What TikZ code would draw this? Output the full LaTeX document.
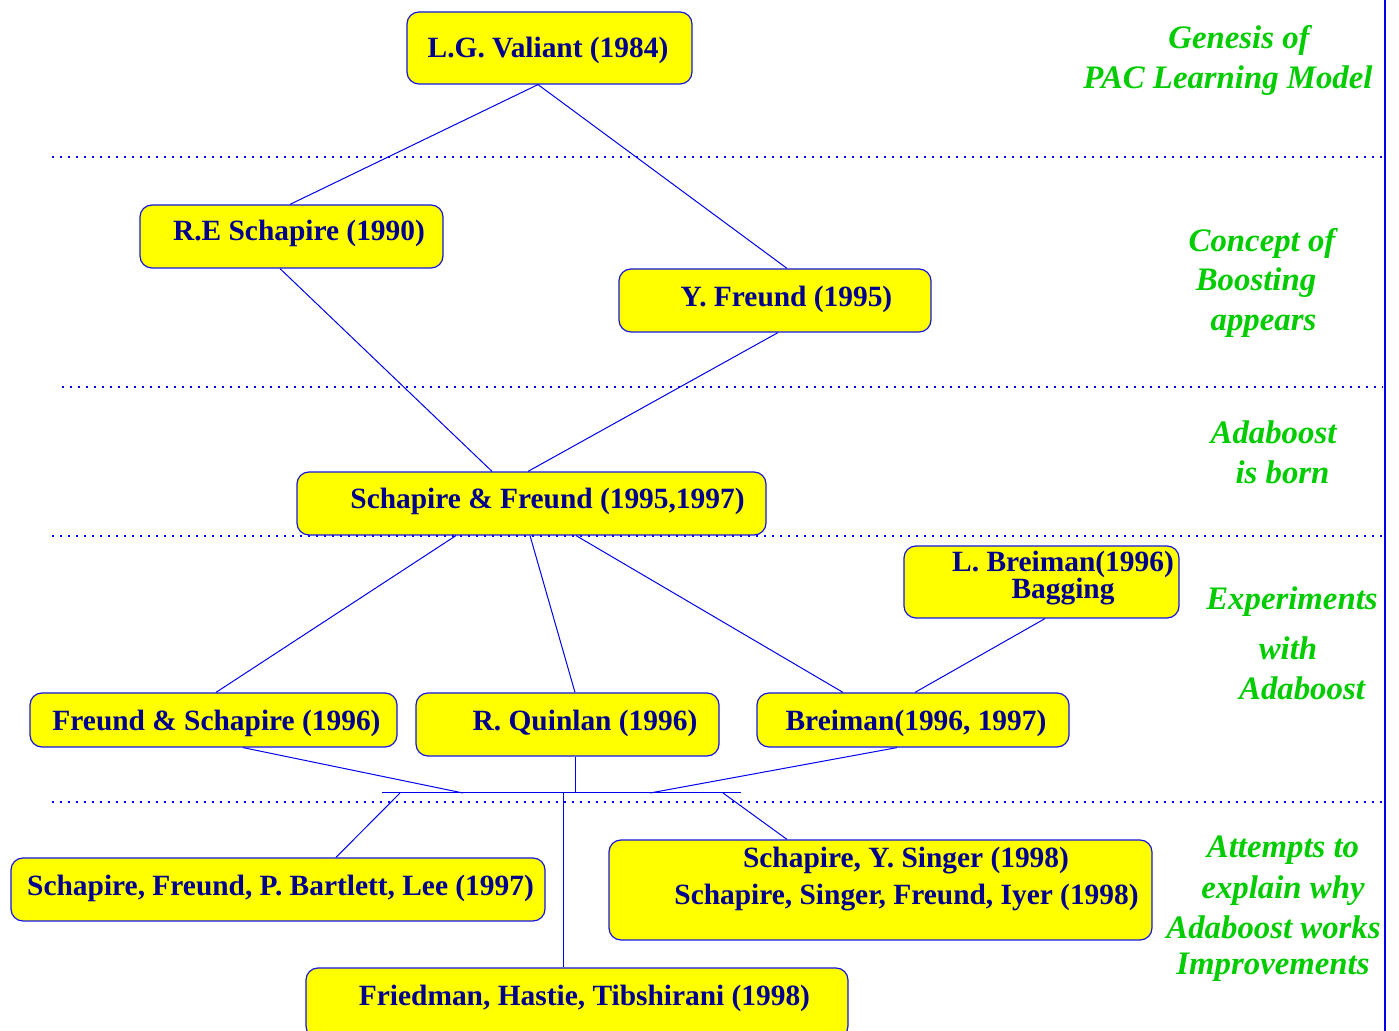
\documentclass[tikz,border=0pt]{standalone}
\usepackage{fontspec}
\setmainfont{Liberation Serif}
\usetikzlibrary{calc,fit}
\definecolor{boxblue}{RGB}{20,20,230}
\definecolor{linkblue}{RGB}{0,0,240}
\definecolor{navytext}{RGB}{0,0,140}
\definecolor{epochgreen}{RGB}{0,204,0}
\definecolor{boxyellow}{RGB}{255,255,0}
\tikzset{
  box/.style={draw=boxblue, line width=0.6pt, fill=boxyellow, rounded corners=6pt, inner sep=0pt},
  boxtext/.style={anchor=base, inner sep=0pt, text=navytext, font=\fontsize{14.7}{17}\selectfont\bfseries},
  epoch/.style={anchor=base, inner sep=0pt, text=epochgreen, font=\fontsize{16.4}{19}\selectfont\bfseries\itshape},
  link/.style={draw=linkblue, line width=0.5pt},
  sep/.style={draw=linkblue, line width=0.6pt, dash pattern=on 1pt off 3pt},
}
\begin{document}
\begin{tikzpicture}[x=0.5pt,y=-0.5pt]
\useasboundingbox (0,0) rectangle (1399,1031);
\clip (0,0) rectangle (1399,1031);

% separators
\draw[sep] (52,157) -- (1383,157);
\draw[sep] (62,387) -- (1383,387);
\draw[sep] (52,536) -- (1383,536);
\draw[sep] (52,802) -- (1383,802);
\draw[linkblue, line width=0.7pt] (1385,0) -- (1385,1031);

% boxes
\node[box, fit={(407,12) (692,84)}] (valiant) {};
\node[box, fit={(140,205) (443,268)}] (reschapire) {};
\node[box, fit={(619,269) (931,332)}] (yfreund) {};
\node[box, fit={(297,472) (766,535)}] (sf) {};
\node[box, fit={(904,546) (1179,618)}] (bagging) {};
\node[box, fit={(30,693) (397,747)}] (fs) {};
\node[box, fit={(416,693) (719,756)}] (quinlan) {};
\node[box, fit={(757,693) (1069,747)}] (breiman) {};
\node[box, fit={(11,858) (545,921)}] (bartlett) {};
\node[box, fit={(609,840) (1152,940)}] (singer) {};
\node[box, fit={(306,968) (848,1038)}] (friedman) {};

% junction bar
\coordinate (jl) at (382,793);
\coordinate (jr) at (741,793);
\coordinate (j1) at (400,793);
\coordinate (j2) at (463,793);
\coordinate (j3) at (563,793);
\coordinate (j4) at (575,793);
\coordinate (j5) at (650,793);
\coordinate (j6) at (723,793);

% connectors
\path[link] ($(valiant.south)+(-11.5,0)$) -- ($(reschapire.north)+(-1.5,0)$);
\path[link] ($(valiant.south)+(-11.5,0)$) -- ($(yfreund.north)+(12,0)$);
\path[link] ($(reschapire.south)+(-11.5,0)$) -- ($(sf.north)+(-39.5,0)$);
\path[link] ($(yfreund.south)+(3,0)$) -- ($(sf.north)+(-3.5,0)$);
\path[link] ($(sf.south)+(-75.5,0)$) -- ($(fs.north)+(2.5,0)$);
\path[link] ($(sf.south)+(-1.5,0)$) -- ($(quinlan.north)+(7.5,0)$);
\path[link] ($(sf.south)+(44.5,0)$) -- ($(breiman.north)+(-70,0)$);
\path[link] ($(bagging.south)+(3.5,0)$) -- ($(breiman.north)+(2,0)$);
\path[link] (jl) -- (jr);
\path[link] ($(fs.south)+(29.5,0)$) -- (j2);
\path[link] ($(quinlan.south)+(7.5,0)$) -- (j4);
\path[link] ($(breiman.south)+(-16,0)$) -- (j5);
\path[link] (j1) -- ($(bartlett.north)+(58,0)$);
\path[link] (j6) -- ($(singer.north)+(-93.5,0)$);
\path[link] (j3) -- ($(friedman.north)+(-14,0)$);

% box texts
\node[boxtext] (tvaliant) at (548,58) {L.G. Valiant (1984)};
\node[boxtext] (treschapire) at (299,241) {R.E Schapire (1990)};
\node[boxtext] (tyfreund) at (786.5,307) {Y. Freund (1995)};
\node[boxtext] (tsf) at (547.5,509) {Schapire \& Freund (1995,1997)};
\node[boxtext] (tbag1) at (1063,572) {L. Breiman(1996)};
\node[boxtext] (tbag2) at (1063,599) {Bagging};
\node[boxtext] (tfs) at (216.5,731) {Freund \& Schapire (1996)};
\node[boxtext] (tquinlan) at (585,731) {R. Quinlan (1996)};
\node[boxtext] (tbreiman) at (916,731) {Breiman(1996, 1997)};
\node[boxtext] (tbartlett) at (280.5,896) {Schapire, Freund, P. Bartlett, Lee (1997)};
\node[boxtext] (tsinger1) at (906,868) {Schapire, Y. Singer (1998)};
\node[boxtext] (tsinger2) at (906.5,905) {Schapire, Singer, Freund, Iyer (1998)};
\node[boxtext] (tfriedman) at (584.5,1006) {Friedman, Hastie, Tibshirani (1998)};

% epoch labels
\node[epoch] (e1a) at (1239,49) {Genesis of};
\node[epoch] (e1b) at (1228,89) {PAC Learning Model};
\node[epoch] (e2a) at (1262,252) {Concept of};
\node[epoch] (e2b) at (1256,291) {Boosting};
\node[epoch] (e2c) at (1263.5,331) {appears};
\node[epoch] (e3a) at (1273.5,444) {Adaboost};
\node[epoch] (e3b) at (1282.5,484) {is born};
\node[epoch] (e4a) at (1292,610) {Experiments};
\node[epoch] (e4b) at (1288,660) {with};
\node[epoch] (e4c) at (1302,700) {Adaboost};
\node[epoch] (e5a) at (1283,858) {Attempts to};
\node[epoch] (e5b) at (1283,899) {explain why};
\node[epoch] (e5c) at (1273.5,939) {Adaboost works};
\node[epoch] (e5d) at (1273,975) {Improvements};
\end{tikzpicture}
\end{document}
